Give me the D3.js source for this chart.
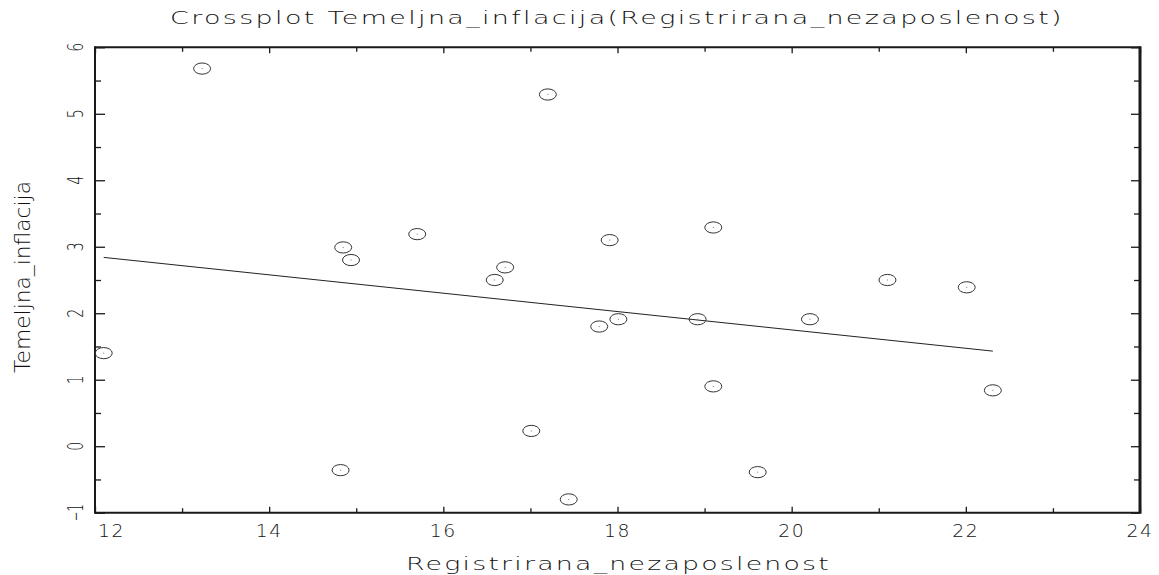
<!DOCTYPE html>
<html>
<head>
<meta charset="utf-8">
<script src="https://cdn.jsdelivr.net/npm/d3@7"></script>
<style>
  html, body { margin: 0; padding: 0; background: #fff; }
  svg { display: block; }
  text { font-family: "DejaVu Sans", "Liberation Sans", sans-serif; font-weight: 200; fill: #111; }
</style>
</head>
<body>
<svg id="chart" width="1159" height="575"></svg>
<script>
// ---- data ----
const unemployment = [12.10, 13.23, 14.85, 14.94, 14.82, 15.70, 16.59, 16.71, 17.20, 17.01, 17.44,
                      17.91, 17.79, 18.01, 18.92, 19.10, 19.10, 19.61, 20.21, 21.10, 22.01, 22.31];
const coreInflation = [1.40, 5.68, 2.99, 2.80, -0.36, 3.19, 2.50, 2.69, 5.29, 0.23, -0.80,
                       3.10, 1.80, 1.91, 1.91, 3.29, 0.90, -0.39, 1.91, 2.50, 2.39, 0.84];
const fitX = [12.10, 22.31];
const fitY = [2.84, 1.43];
const xMajorTicks = [12, 14, 16, 18, 20, 22, 24];
const xMinorTicks = [13, 15, 17, 19, 21, 23];
const yMajorTicks = [-1, 0, 1, 2, 3, 4, 5, 6];
const yMinorTicks = [-0.5, 0.5, 1.5, 2.5, 3.5, 4.5, 5.5];
const titleText = "Crossplot Temeljna_inflacija(Registrirana_nezaposlenost)";
const xTitle = "Registrirana_nezaposlenost";
const yTitle = "Temeljna_inflacija";

const svg = d3.select("#chart");
const L = 95, R = 1140, T = 47.3, B = 512.7;
const x = d3.scaleLinear().domain([12, 24]).range([L, R]);
const y = d3.scaleLinear().domain([-1, 6]).range([B, T]);
const axisColor = "#1a1a1a";

function styleAxis(g, w) {
  g.select(".domain").remove();
  g.selectAll("line").attr("stroke", axisColor).attr("stroke-width", w);
  g.selectAll("text").remove();
}

// ticks via d3 axes (inward)
svg.append("g").attr("transform", `translate(0,${B})`)
  .call(d3.axisBottom(x).tickValues(xMajorTicks).tickSize(-6).tickFormat(""))
  .call(g => styleAxis(g, 1.3));
svg.append("g").attr("transform", `translate(0,${B})`)
  .call(d3.axisBottom(x).tickValues(xMinorTicks).tickSize(-4.5).tickFormat(""))
  .call(g => styleAxis(g, 1.3));
svg.append("g").attr("transform", `translate(0,${T})`)
  .call(d3.axisTop(x).tickValues(xMajorTicks).tickSize(-6).tickFormat(""))
  .call(g => styleAxis(g, 1.3));
svg.append("g").attr("transform", `translate(0,${T})`)
  .call(d3.axisTop(x).tickValues(xMinorTicks).tickSize(-4.5).tickFormat(""))
  .call(g => styleAxis(g, 1.3));
svg.append("g").attr("transform", `translate(${L},0)`)
  .call(d3.axisLeft(y).tickValues(yMajorTicks).tickSize(-10).tickFormat(""))
  .call(g => styleAxis(g, 1.3));
svg.append("g").attr("transform", `translate(${L},0)`)
  .call(d3.axisLeft(y).tickValues(yMinorTicks).tickSize(-6).tickFormat(""))
  .call(g => styleAxis(g, 1.3));
svg.append("g").attr("transform", `translate(${R},0)`)
  .call(d3.axisRight(y).tickValues(yMajorTicks).tickSize(-9).tickFormat(""))
  .call(g => styleAxis(g, 1.3));
svg.append("g").attr("transform", `translate(${R},0)`)
  .call(d3.axisRight(y).tickValues(yMinorTicks).tickSize(-6).tickFormat(""))
  .call(g => styleAxis(g, 1.3));

// frame
svg.append("line").attr("x1", L).attr("x2", R).attr("y1", T).attr("y2", T)
  .attr("stroke", axisColor).attr("stroke-width", 2);
svg.append("line").attr("x1", L).attr("x2", R).attr("y1", B).attr("y2", B)
  .attr("stroke", axisColor).attr("stroke-width", 2);
svg.append("line").attr("x1", L).attr("x2", L).attr("y1", T - 1).attr("y2", B + 1)
  .attr("stroke", axisColor).attr("stroke-width", 2);
svg.append("line").attr("x1", R).attr("x2", R).attr("y1", T - 1).attr("y2", B + 1)
  .attr("stroke", axisColor).attr("stroke-width", 3);

// x tick labels
svg.append("g").selectAll("text").data(xMajorTicks).join("text")
  .attr("x", (d, i) => i === 0 ? x(d) + 3 : x(d))
  .attr("y", 537)
  .attr("text-anchor", (d, i) => i === 0 ? "start" : "middle")
  .attr("font-size", 18)
  .attr("letter-spacing", 1.5)
  .attr("textLength", 27)
  .attr("lengthAdjust", "spacingAndGlyphs")
  .text(d => d);

// y tick labels (rotated)
svg.append("g").selectAll("text").data(yMajorTicks).join("text")
  .attr("transform", d => `translate(83,${y(d)}) rotate(-90)`)
  .attr("text-anchor", "middle")
  .attr("font-size", 22)
  .attr("textLength", d => String(d).length > 1 ? 17 : 9)
  .attr("lengthAdjust", "spacingAndGlyphs")
  .text(d => String(d).replace("-", "\u2212"));

// title
svg.append("text").attr("x", 170).attr("y", 24)
  .attr("font-size", 17)
  .attr("letter-spacing", 1.5)
  .attr("textLength", 894).attr("lengthAdjust", "spacingAndGlyphs")
  .text(titleText);

// axis titles
svg.append("text").attr("x", 406).attr("y", 570)
  .attr("font-size", 18)
  .attr("letter-spacing", 1.5)
  .attr("textLength", 425).attr("lengthAdjust", "spacingAndGlyphs")
  .text(xTitle);
svg.append("text").attr("transform", `translate(30,277) rotate(-90)`)
  .attr("text-anchor", "middle")
  .attr("font-size", 21)
  .attr("textLength", 192).attr("lengthAdjust", "spacingAndGlyphs")
  .text(yTitle);

// regression line
svg.append("path")
  .datum(fitX.map((v, i) => [v, fitY[i]]))
  .attr("d", d3.line().x(d => x(d[0])).y(d => y(d[1])))
  .attr("fill", "none").attr("stroke", "#222").attr("stroke-width", 1);

// points
const pts = unemployment.map((v, i) => ({ u: v, c: coreInflation[i] }));
const pg = svg.append("g");
pg.selectAll("ellipse").data(pts).join("ellipse")
  .attr("cx", d => x(d.u)).attr("cy", d => y(d.c))
  .attr("rx", 8.5).attr("ry", 5.6)
  .attr("fill", "none").attr("stroke", "#333").attr("stroke-width", 1);
pg.selectAll("rect").data(pts).join("rect")
  .attr("x", d => x(d.u) - 0.5).attr("y", d => y(d.c) - 0.5)
  .attr("width", 1).attr("height", 1).attr("fill", "#777");
</script>
</body>
</html>
